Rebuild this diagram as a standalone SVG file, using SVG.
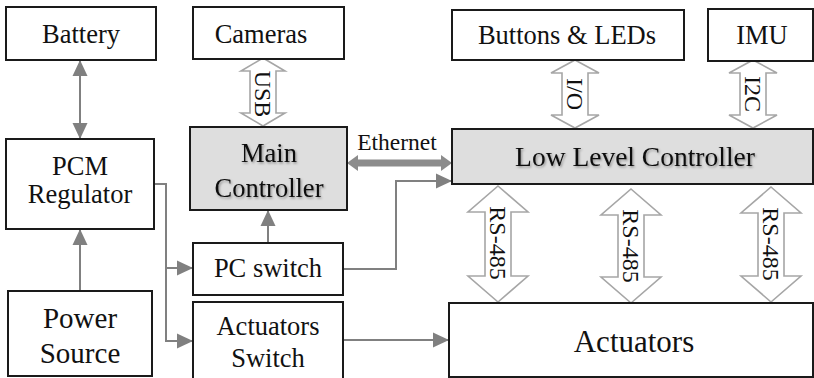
<svg xmlns="http://www.w3.org/2000/svg" width="814" height="378" viewBox="0 0 814 378">
<style>
.box{fill:#fff;stroke:#1a1a1a;stroke-width:2}
.gbox{fill:#dedede;stroke:#1a1a1a;stroke-width:2}
text{fill:#111;text-anchor:middle}
.t26{font-size:26.5px}
.conn{fill:none;stroke:#808080;stroke-width:2}
.dbl{fill:#fff;stroke:#a6a6a6;stroke-width:1.6;stroke-linejoin:miter}
.lbl{font-size:24px}
.sh{filter:url(#shadow)}
</style>
<defs>
<marker id="ah" markerUnits="userSpaceOnUse" markerWidth="16" markerHeight="16" viewBox="0 0 16 16" refX="16" refY="8" orient="auto-start-reverse">
<path d="M0,0.5 L16,8 L0,15.5 Z" fill="#808080"/>
</marker>
<filter id="shadow" x="-10%" y="-30%" width="130%" height="170%">
<feDropShadow dx="1.2" dy="1.5" stdDeviation="1" flood-color="#000" flood-opacity="0.35"/>
</filter>
</defs>

<g id="connectors" font-family="Liberation Serif, Times New Roman, serif">
<line class="conn" x1="80" y1="60" x2="80" y2="139" marker-start="url(#ah)" marker-end="url(#ah)"/>
<line class="conn" x1="80" y1="291" x2="80" y2="229" marker-end="url(#ah)"/>
<path class="conn" d="M154,184 H166 V268 H193" marker-end="url(#ah)"/>
<path class="conn" d="M166,268 V341 H193" marker-end="url(#ah)"/>
<line class="conn" x1="268" y1="243" x2="268" y2="210" marker-end="url(#ah)"/>
<path class="conn" d="M343,269 H396 V181 H452" marker-end="url(#ah)"/>
<line class="conn" x1="343" y1="340" x2="449" y2="340" marker-end="url(#ah)"/>
<polygon points="347,163 358,155 358,159.5 441,159.5 441,155 452,163 441,171 441,166.5 358,166.5 358,171" fill="#8c8c8c"/>
<text x="397" y="150" font-size="23.5">Ethernet</text>
<polygon class="dbl" points="263,58 285,71 276,71 276,113 285,113 263,126 241,113 250,113 250,71 241,71"/>
<text class="lbl" transform="translate(263,94) rotate(90)" x="0" y="8">USB</text>
<polygon class="dbl" points="575,60 599,73 588,73 588,115 599,115 575,128 551,115 562,115 562,73 551,73"/>
<text class="lbl" transform="translate(575,94) rotate(90)" x="0" y="8">I/O</text>
<polygon class="dbl" points="753,60 777,73 766,73 766,115 777,115 753,128 729,115 740,115 740,73 729,73"/>
<text class="lbl" transform="translate(753,94) rotate(90)" x="0" y="8">I2C</text>
<polygon class="dbl" points="498,186 528,212 511,212 511,276 528,276 498,302 468,276 485,276 485,212 468,212"/>
<text class="lbl" transform="translate(498,243) rotate(90)" x="0" y="8">RS-485</text>
<polygon class="dbl" points="631,189 661,215 644,215 644,277 661,277 631,303 601,277 618,277 618,215 601,215"/>
<text class="lbl" transform="translate(631,246) rotate(90)" x="0" y="8">RS-485</text>
<polygon class="dbl" points="771,187 801,213 784,213 784,276 801,276 771,302 741,276 758,276 758,213 741,213"/>
<text class="lbl" transform="translate(771,244) rotate(90)" x="0" y="8">RS-485</text>
</g>

<g id="nodes" font-family="Liberation Serif, Times New Roman, serif">
<g id="battery"><rect class="box" x="6" y="7" width="150" height="53"/><text class="t26" x="81" y="43">Battery</text></g>
<g id="cameras"><rect class="box" x="193" y="7" width="151" height="52"/><text class="t26" x="261" y="43">Cameras</text></g>
<g id="buttons"><rect class="box" x="452" y="10" width="232" height="50"/><text class="t26" x="567" y="44">Buttons &amp; LEDs</text></g>
<g id="imu"><rect class="box" x="708" y="9" width="105" height="52"/><text class="t26" x="762" y="44">IMU</text></g>
<g id="main-controller"><rect class="gbox" x="190" y="127" width="157" height="83"/><text class="t26 sh" x="269" y="162">Main</text><text class="t26 sh" x="269" y="197">Controller</text></g>
<g id="low-level-controller"><rect class="gbox" x="452" y="129" width="361" height="55"/><text class="sh" font-size="27.5" x="635" y="166">Low Level Controller</text></g>
<g id="pcm-regulator"><rect class="box" x="6" y="139" width="148" height="90"/><text class="t26" x="80" y="175">PCM</text><text class="t26" x="80" y="203">Regulator</text></g>
<g id="pc-switch"><rect class="box" x="193" y="243" width="150" height="52"/><text class="t26" x="268" y="277">PC switch</text></g>
<g id="power-source"><rect class="box" x="8" y="291" width="144" height="85"/><text font-size="29" x="80" y="328">Power</text><text font-size="29" x="80" y="363">Source</text></g>
<g id="actuators-switch"><rect class="box" x="193" y="302" width="150" height="82"/><text class="t26" x="268" y="335">Actuators</text><text class="t26" x="268" y="367">Switch</text></g>
<g id="actuators"><rect class="box" x="449" y="303" width="364" height="74"/><text font-size="31" x="634" y="352">Actuators</text></g>
</g>
</svg>
